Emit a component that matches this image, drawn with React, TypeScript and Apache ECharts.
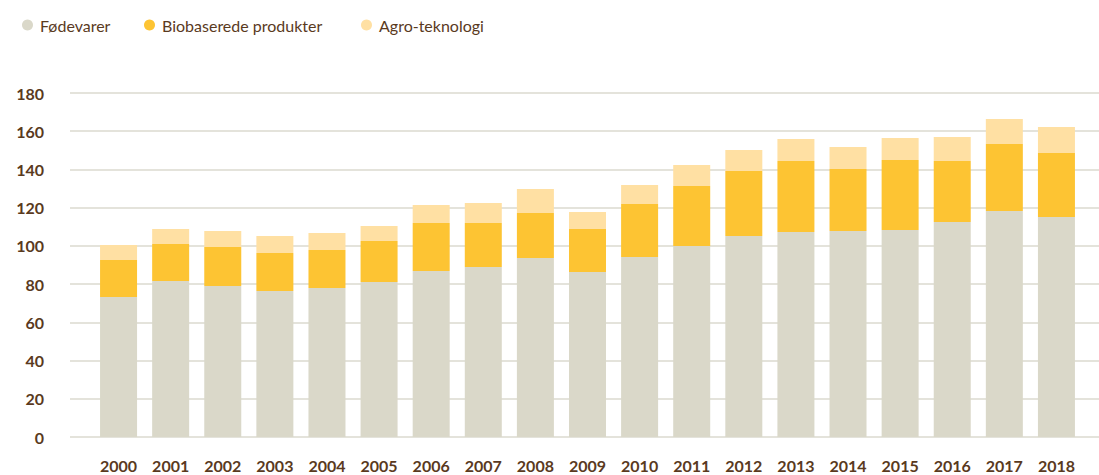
import React, { useEffect, useRef } from "react";
import * as echarts from "echarts";

const years = ["2000","2001","2002","2003","2004","2005","2006","2007","2008","2009","2010","2011","2012","2013","2014","2015","2016","2017","2018"];
const foedevarer = [73.3, 81.6, 79.0, 76.4, 78.0, 81.1, 86.9, 89.0, 93.7, 86.3, 94.2, 99.9, 105.2, 107.3, 107.8, 108.3, 112.5, 118.3, 115.1];
const biobaserede = [19.3, 19.4, 20.4, 19.9, 19.9, 21.5, 25.1, 23.0, 23.5, 22.5, 27.7, 31.4, 34.0, 37.1, 32.4, 36.7, 31.9, 35.0, 33.5];
const agro = [7.9, 7.8, 8.4, 8.9, 8.8, 7.8, 9.4, 10.4, 12.6, 8.9, 10.0, 11.0, 11.0, 11.5, 11.5, 11.5, 12.6, 13.1, 13.6];

const names = ["Fødevarer", "Biobaserede produkter", "Agro-teknologi"];
const colors = ["#DAD8C9", "#FDC433", "#FFE0A3"];

const FONT = "Lato, 'Open Sans', sans-serif";
const TEXT = "#5a3a1e";

export default function App() {
  const ref = useRef<HTMLDivElement>(null);
  useEffect(() => {
    if (!ref.current) return;
    const chart = echarts.init(ref.current, undefined, { renderer: "svg" });
    const legendLefts = [17, 139, 356];
    chart.setOption({
      animation: false,
      textStyle: { fontFamily: FONT },
      legend: names.map((n, i) => ({
        data: [n],
        left: legendLefts[i],
        top: 12,
        icon: "circle",
        itemWidth: 11,
        itemHeight: 11,
        selectedMode: false,
        textStyle: { color: TEXT, fontSize: 16, fontFamily: FONT, padding: [0, 0, 0, 2] },
      })),
      grid: [
        { left: 70, right: 0, top: 93, bottom: 38 },
        { left: 92.5, right: 16.5, top: 93, bottom: 38 },
      ],
      xAxis: [
        { type: "value", gridIndex: 0, show: false, min: 0, max: 1 },
        {
          type: "category",
          gridIndex: 1,
          data: years,
          axisLine: { show: false },
          axisTick: { show: false },
          axisLabel: { color: TEXT, fontSize: 16, fontWeight: "bold", fontFamily: FONT, margin: 20 },
        },
      ],
      yAxis: [
        {
          type: "value",
          gridIndex: 0,
          min: 0,
          max: 180,
          interval: 20,
          axisLine: { show: false },
          axisTick: { show: false },
          axisLabel: { color: TEXT, fontSize: 16, fontWeight: "bold", fontFamily: FONT, margin: 26 },
          splitLine: { show: true, lineStyle: { color: "#dbdacf", width: 1.5 } },
        },
        { type: "value", gridIndex: 1, min: 0, max: 180, show: false, splitLine: { show: false } },
      ],
      series: [foedevarer, biobaserede, agro].map((d, i) => ({
        name: names[i],
        type: "bar",
        stack: "total",
        xAxisIndex: 1,
        yAxisIndex: 1,
        data: d,
        barWidth: 37,
        itemStyle: { color: colors[i] },
        emphasis: { disabled: true },
      })),
    });
    return () => chart.dispose();
  }, []);
  return (
    <div
      ref={ref}
      style={{ position: "fixed", left: 0, top: 0, width: 1099, height: 475, background: "#fff" }}
    />
  );
}
